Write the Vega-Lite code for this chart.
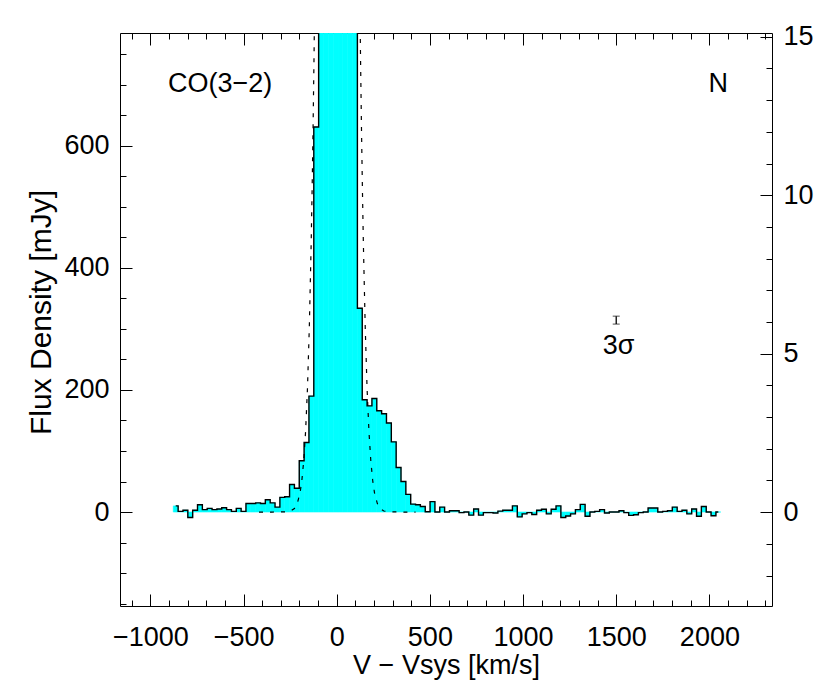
{
  "$schema": "https://vega.github.io/schema/vega-lite/v6.json",
  "width": 652,
  "height": 573,
  "autosize": {"type": "none"},
  "padding": {"left": 120, "top": 33, "right": 58, "bottom": 85},
  "background": "white",
  "config": {
    "view": {"stroke": "black", "strokeWidth": 1},
    "font": "Liberation Sans",
    "axis": {
      "labelFont": "Liberation Sans", "labelFontSize": 27, "labelColor": "black",
      "titleFont": "Liberation Sans", "titleFontSize": 27, "titleFontWeight": "normal", "titleColor": "black",
      "tickColor": "black", "tickWidth": 1, "domain": false, "grid": false,
      "labelFlush": false, "labelOverlap": false
    }
  },
  "datasets": {
    "spec": [
      {"v": -864, "lo": -877, "hi": -851, "f": 10},
      {"v": -838, "lo": -851, "hi": -825, "f": 1},
      {"v": -812, "lo": -825, "hi": -799, "f": 3},
      {"v": -786, "lo": -799, "hi": -773, "f": -9},
      {"v": -760, "lo": -773, "hi": -747, "f": 3},
      {"v": -734, "lo": -747, "hi": -721, "f": 12},
      {"v": -708, "lo": -721, "hi": -695, "f": 4},
      {"v": -682, "lo": -695, "hi": -669, "f": 6},
      {"v": -656, "lo": -669, "hi": -643, "f": 4},
      {"v": -630, "lo": -643, "hi": -617, "f": 5},
      {"v": -604, "lo": -617, "hi": -591, "f": 7},
      {"v": -578, "lo": -591, "hi": -565, "f": 4},
      {"v": -552, "lo": -565, "hi": -539, "f": 1},
      {"v": -526, "lo": -539, "hi": -513, "f": 6},
      {"v": -500, "lo": -513, "hi": -487, "f": 1},
      {"v": -474, "lo": -487, "hi": -461, "f": 14},
      {"v": -448, "lo": -461, "hi": -435, "f": 14},
      {"v": -422, "lo": -435, "hi": -409, "f": 15},
      {"v": -396, "lo": -409, "hi": -383, "f": 14},
      {"v": -370, "lo": -383, "hi": -357, "f": 20},
      {"v": -344, "lo": -357, "hi": -331, "f": 15},
      {"v": -318, "lo": -331, "hi": -305, "f": 8},
      {"v": -292, "lo": -305, "hi": -279, "f": 24},
      {"v": -266, "lo": -279, "hi": -253, "f": 25},
      {"v": -240, "lo": -253, "hi": -227, "f": 45},
      {"v": -214, "lo": -227, "hi": -201, "f": 39},
      {"v": -188, "lo": -201, "hi": -175, "f": 84},
      {"v": -162, "lo": -175, "hi": -149, "f": 114},
      {"v": -136, "lo": -149, "hi": -123, "f": 190},
      {"v": -110, "lo": -123, "hi": -97, "f": 631},
      {"v": -84, "lo": -97, "hi": -71, "f": 1900},
      {"v": -58, "lo": -71, "hi": -45, "f": 3400},
      {"v": -32, "lo": -45, "hi": -19, "f": 4800},
      {"v": -6, "lo": -19, "hi": 7, "f": 5500},
      {"v": 20, "lo": 7, "hi": 33, "f": 5300},
      {"v": 46, "lo": 33, "hi": 59, "f": 4300},
      {"v": 72, "lo": 59, "hi": 85, "f": 2900},
      {"v": 98, "lo": 85, "hi": 111, "f": 1500},
      {"v": 124, "lo": 111, "hi": 137, "f": 334},
      {"v": 150, "lo": 137, "hi": 163, "f": 184},
      {"v": 176, "lo": 163, "hi": 189, "f": 174},
      {"v": 202, "lo": 189, "hi": 215, "f": 186},
      {"v": 228, "lo": 215, "hi": 241, "f": 166},
      {"v": 254, "lo": 241, "hi": 267, "f": 161},
      {"v": 280, "lo": 267, "hi": 293, "f": 146},
      {"v": 306, "lo": 293, "hi": 319, "f": 115},
      {"v": 332, "lo": 319, "hi": 345, "f": 73},
      {"v": 358, "lo": 345, "hi": 371, "f": 50},
      {"v": 384, "lo": 371, "hi": 397, "f": 29},
      {"v": 410, "lo": 397, "hi": 423, "f": 13},
      {"v": 436, "lo": 423, "hi": 449, "f": 12},
      {"v": 462, "lo": 449, "hi": 475, "f": 9},
      {"v": 488, "lo": 475, "hi": 501, "f": 0.5},
      {"v": 514, "lo": 501, "hi": 527, "f": 17},
      {"v": 540, "lo": 527, "hi": 553, "f": 0},
      {"v": 566, "lo": 553, "hi": 579, "f": 8},
      {"v": 592, "lo": 579, "hi": 605, "f": 0},
      {"v": 618, "lo": 605, "hi": 631, "f": 2},
      {"v": 644, "lo": 631, "hi": 657, "f": 2},
      {"v": 670, "lo": 657, "hi": 683, "f": -1},
      {"v": 696, "lo": 683, "hi": 709, "f": 0},
      {"v": 722, "lo": 709, "hi": 735, "f": -5},
      {"v": 748, "lo": 735, "hi": 761, "f": 5},
      {"v": 774, "lo": 761, "hi": 787, "f": -5},
      {"v": 800, "lo": 787, "hi": 813, "f": -1},
      {"v": 826, "lo": 813, "hi": 839, "f": -1},
      {"v": 852, "lo": 839, "hi": 865, "f": -1.5},
      {"v": 878, "lo": 865, "hi": 891, "f": 1.5},
      {"v": 904, "lo": 891, "hi": 917, "f": 3},
      {"v": 930, "lo": 917, "hi": 943, "f": 3},
      {"v": 956, "lo": 943, "hi": 969, "f": 10},
      {"v": 982, "lo": 969, "hi": 995, "f": -8},
      {"v": 1008, "lo": 995, "hi": 1021, "f": -3},
      {"v": 1034, "lo": 1021, "hi": 1047, "f": -1},
      {"v": 1060, "lo": 1047, "hi": 1073, "f": -4},
      {"v": 1086, "lo": 1073, "hi": 1099, "f": 3},
      {"v": 1112, "lo": 1099, "hi": 1125, "f": 4.5},
      {"v": 1138, "lo": 1125, "hi": 1151, "f": -3},
      {"v": 1164, "lo": 1151, "hi": 1177, "f": 4.5},
      {"v": 1190, "lo": 1177, "hi": 1203, "f": 10},
      {"v": 1216, "lo": 1203, "hi": 1229, "f": -9},
      {"v": 1242, "lo": 1229, "hi": 1255, "f": -6.5},
      {"v": 1268, "lo": 1255, "hi": 1281, "f": -3},
      {"v": 1294, "lo": 1281, "hi": 1307, "f": 4},
      {"v": 1320, "lo": 1307, "hi": 1333, "f": 12.5},
      {"v": 1346, "lo": 1333, "hi": 1359, "f": -7},
      {"v": 1372, "lo": 1359, "hi": 1385, "f": 0},
      {"v": 1398, "lo": 1385, "hi": 1411, "f": 1},
      {"v": 1424, "lo": 1411, "hi": 1437, "f": 4},
      {"v": 1450, "lo": 1437, "hi": 1463, "f": -1.5},
      {"v": 1476, "lo": 1463, "hi": 1489, "f": 0},
      {"v": 1502, "lo": 1489, "hi": 1515, "f": 0},
      {"v": 1528, "lo": 1515, "hi": 1541, "f": 2},
      {"v": 1554, "lo": 1541, "hi": 1567, "f": -1},
      {"v": 1580, "lo": 1567, "hi": 1593, "f": -5.5},
      {"v": 1606, "lo": 1593, "hi": 1619, "f": -4.5},
      {"v": 1632, "lo": 1619, "hi": 1645, "f": -1},
      {"v": 1658, "lo": 1645, "hi": 1671, "f": 0},
      {"v": 1684, "lo": 1671, "hi": 1697, "f": 6.5},
      {"v": 1710, "lo": 1697, "hi": 1723, "f": 6.5},
      {"v": 1736, "lo": 1723, "hi": 1749, "f": 0},
      {"v": 1762, "lo": 1749, "hi": 1775, "f": 1},
      {"v": 1788, "lo": 1775, "hi": 1801, "f": 2},
      {"v": 1814, "lo": 1801, "hi": 1827, "f": 8},
      {"v": 1840, "lo": 1827, "hi": 1853, "f": 1},
      {"v": 1866, "lo": 1853, "hi": 1879, "f": 3},
      {"v": 1892, "lo": 1879, "hi": 1905, "f": -3},
      {"v": 1918, "lo": 1905, "hi": 1931, "f": 5},
      {"v": 1944, "lo": 1931, "hi": 1957, "f": -7},
      {"v": 1970, "lo": 1957, "hi": 1983, "f": 9},
      {"v": 1996, "lo": 1983, "hi": 2009, "f": 0},
      {"v": 2022, "lo": 2009, "hi": 2035, "f": -6},
      {"v": 2048, "lo": 2035, "hi": 2061, "f": 0}
    ],
    "fit": [
      {"v": -417, "f": 0}, {"v": -347, "f": 0}, {"v": -277, "f": 0.2}, {"v": -247, "f": 1.7},
      {"v": -227, "f": 5.8}, {"v": -212, "f": 13.8}, {"v": -197, "f": 31}, {"v": -187, "f": 52},
      {"v": -177, "f": 84}, {"v": -167, "f": 132}, {"v": -157, "f": 202}, {"v": -147, "f": 303},
      {"v": -137, "f": 441}, {"v": -132, "f": 528}, {"v": -127, "f": 627}, {"v": -122, "f": 740},
      {"v": -117, "f": 868}, {"v": -107, "f": 1171}, {"v": -97, "f": 1539}, {"v": 3, "f": 5650},
      {"v": 103, "f": 1539}, {"v": 113, "f": 1171}, {"v": 123, "f": 868}, {"v": 128, "f": 740},
      {"v": 133, "f": 627}, {"v": 138, "f": 528}, {"v": 143, "f": 441}, {"v": 153, "f": 303},
      {"v": 163, "f": 202}, {"v": 173, "f": 132}, {"v": 183, "f": 84}, {"v": 193, "f": 52},
      {"v": 203, "f": 31}, {"v": 218, "f": 13.8}, {"v": 233, "f": 5.8}, {"v": 253, "f": 1.7},
      {"v": 283, "f": 0.2}, {"v": 353, "f": 0}, {"v": 423, "f": 0}
    ],
    "sig": [{"v": 1500, "lo": 308, "hi": 321}],
    "labN": [{"v": 1995, "r": 13.27, "t": "N"}],
    "labCO": [{"v": -906, "f": 688, "t": "CO(3−2)"}],
    "labS": [{"v": 1513, "f": 259, "t": "3σ"}]
  },
  "resolve": {"scale": {"y": "independent"}, "axis": {"x": "independent", "y": "independent"}},
  "layer": [
    {
      "data": {"name": "spec"},
      "mark": {"type": "bar", "color": "#00FFFF", "stroke": "#00FFFF", "strokeWidth": 0.6, "clip": true},
      "encoding": {
        "x": {"field": "lo", "type": "quantitative",
          "scale": {"domain": [-1163, 2336], "nice": false, "zero": false},
          "axis": {"orient": "bottom", "values": [-1000, -500, 0, 500, 1000, 1500, 2000], "format": "d",
            "tickSize": -12, "labelPadding": 30, "title": "V − Vsys [km/s]",
            "titleX": 326, "titleY": 67, "titleAlign": "center", "titleBaseline": "alphabetic", "titleAnchor": null}},
        "x2": {"field": "hi"},
        "y": {"field": "f", "type": "quantitative",
          "scale": {"domain": [-154, 785], "nice": false, "zero": false},
          "axis": {"orient": "left", "values": [0, 200, 400, 600], "format": "d",
            "tickSize": -12, "labelPadding": 23, "title": "Flux Density [mJy]", "titleFontSize": 30,
            "titleX": -70, "titleY": 279, "titleAngle": -90, "titleAlign": "center", "titleBaseline": "alphabetic", "titleAnchor": null}},
        "y2": {"datum": 0}
      }
    },
    {
      "data": {"name": "spec"},
      "mark": {"type": "line", "interpolate": "step", "color": "black", "strokeWidth": 1.4, "clip": true},
      "encoding": {
        "x": {"field": "v", "type": "quantitative",
          "scale": {"domain": [-1163, 2336], "nice": false, "zero": false},
          "axis": {"orient": "bottom", "values": [-1100, -1000, -900, -800, -700, -600, -500, -400, -300, -200, -100, 0, 100, 200, 300, 400, 500, 600, 700, 800, 900, 1000, 1100, 1200, 1300, 1400, 1500, 1600, 1700, 1800, 1900, 2000, 2100, 2200, 2300],
            "tickSize": -6, "labels": false, "title": null}},
        "y": {"field": "f", "type": "quantitative",
          "scale": {"domain": [-154, 785], "nice": false, "zero": false},
          "axis": {"orient": "left", "values": [-150, -100, -50, 0, 50, 100, 150, 200, 250, 300, 350, 400, 450, 500, 550, 600, 650, 700, 750],
            "tickSize": -6, "labels": false, "title": null}}
      }
    },
    {
      "data": {"name": "fit"},
      "mark": {"type": "line", "color": "black", "strokeWidth": 1.2, "strokeDash": [4, 7], "clip": true},
      "encoding": {
        "x": {"field": "v", "type": "quantitative",
          "scale": {"domain": [-1163, 2336], "nice": false, "zero": false},
          "axis": {"orient": "top", "values": [-1000, -500, 0, 500, 1000, 1500, 2000], "tickSize": -12, "labels": false, "title": null}},
        "y": {"field": "f", "type": "quantitative",
          "scale": {"domain": [-154, 785], "nice": false, "zero": false}, "axis": null}
      }
    },
    {
      "mark": {"type": "rule", "color": "black", "strokeWidth": 1.2, "strokeDash": [4, 7]},
      "encoding": {
        "y": {"datum": 0, "type": "quantitative",
          "scale": {"domain": [-2.96, 15.12], "nice": false, "zero": false},
          "axis": {"orient": "right", "values": [0, 5, 10, 15], "format": "d", "tickSize": -12, "labelPadding": 23, "title": null}}
      }
    },
    {
      "data": {"name": "sig"},
      "mark": {"type": "errorbar", "ticks": {"size": 7, "color": "black", "strokeWidth": 1.3}, "rule": {"color": "black", "strokeWidth": 1.3}},
      "encoding": {
        "x": {"field": "v", "type": "quantitative",
          "scale": {"domain": [-1163, 2336], "nice": false, "zero": false},
          "axis": {"orient": "top", "values": [-1100, -1000, -900, -800, -700, -600, -500, -400, -300, -200, -100, 0, 100, 200, 300, 400, 500, 600, 700, 800, 900, 1000, 1100, 1200, 1300, 1400, 1500, 1600, 1700, 1800, 1900, 2000, 2100, 2200, 2300],
            "tickSize": -6, "labels": false, "title": null}},
        "y": {"field": "lo", "type": "quantitative",
          "scale": {"domain": [-154, 785], "nice": false, "zero": false}, "axis": null},
        "y2": {"field": "hi"}
      }
    },
    {
      "data": {"name": "labN"},
      "mark": {"type": "text", "align": "left", "baseline": "alphabetic", "fontSize": 27, "font": "Liberation Sans", "color": "black"},
      "encoding": {
        "x": {"field": "v", "type": "quantitative", "scale": {"domain": [-1163, 2336], "nice": false, "zero": false}, "axis": null},
        "y": {"field": "r", "type": "quantitative",
          "scale": {"domain": [-2.96, 15.12], "nice": false, "zero": false},
          "axis": {"orient": "right", "values": [-2, -1, 0, 1, 2, 3, 4, 5, 6, 7, 8, 9, 10, 11, 12, 13, 14, 15], "tickSize": -6, "labels": false, "title": null}},
        "text": {"field": "t"}
      }
    },
    {
      "data": {"name": "labCO"},
      "mark": {"type": "text", "align": "left", "baseline": "alphabetic", "fontSize": 27, "font": "Liberation Sans", "color": "black"},
      "encoding": {
        "x": {"field": "v", "type": "quantitative", "scale": {"domain": [-1163, 2336], "nice": false, "zero": false}, "axis": null},
        "y": {"field": "f", "type": "quantitative", "scale": {"domain": [-154, 785], "nice": false, "zero": false}, "axis": null},
        "text": {"field": "t"}
      }
    },
    {
      "data": {"name": "labS"},
      "mark": {"type": "text", "align": "center", "baseline": "alphabetic", "fontSize": 27, "font": "Liberation Sans", "color": "black"},
      "encoding": {
        "x": {"field": "v", "type": "quantitative", "scale": {"domain": [-1163, 2336], "nice": false, "zero": false}, "axis": null},
        "y": {"field": "f", "type": "quantitative", "scale": {"domain": [-154, 785], "nice": false, "zero": false}, "axis": null},
        "text": {"field": "t"}
      }
    }
  ]
}
